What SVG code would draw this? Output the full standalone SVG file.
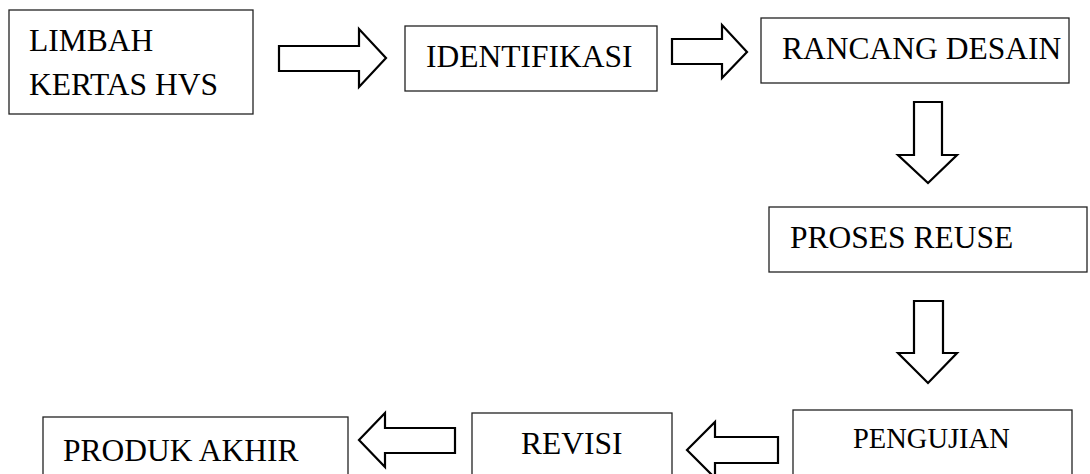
<svg xmlns="http://www.w3.org/2000/svg" width="1090" height="474" viewBox="0 0 1090 474">
<style>
.box{fill:#fff;stroke:#222;stroke-width:1.3}
.arr{fill:#fff;stroke:#000;stroke-width:2.2;stroke-linejoin:miter}
.t{font-family:"Liberation Serif","Times New Roman",serif;font-size:31.5px;fill:#000}
.s{font-size:28.5px}
</style>
<rect width="1090" height="474" fill="#fff"/>
<g id="connectors">
<polygon class="arr" points="279,46 359,46 359,29 386,58 359,87 359,71 279,71"/>
<polygon class="arr" points="672,39 722,39 722,25 747,52 722,78 722,64 672,64"/>
<polygon class="arr" points="914,102 942,102 942,155 957,155 928,183 898,155 914,155"/>
<polygon class="arr" points="914,301 943,301 943,353 957,353 928,383 898,353 914,353"/>
<polygon class="arr" points="778,437 715,437 715,422 687,450 715,478 715,463 778,463"/>
<polygon class="arr" points="455,428 385,428 385,413 359,440 385,467 385,453 455,453"/>
</g>
<g id="n-limbah">
<rect class="box" x="9" y="10" width="244" height="104"/>
<text class="t" x="29" y="51">LIMBAH</text>
<text class="t" x="29" y="95">KERTAS HVS</text>
</g>
<g id="n-identifikasi">
<rect class="box" x="405" y="26" width="252" height="65"/>
<text class="t" x="426" y="67">IDENTIFIKASI</text>
</g>
<g id="n-rancang">
<rect class="box" x="761" y="18" width="308" height="65"/>
<text class="t" x="782" y="58.5">RANCANG DESAIN</text>
</g>
<g id="n-proses">
<rect class="box" x="769" y="207" width="318" height="65"/>
<text class="t" x="790" y="248">PROSES REUSE</text>
</g>
<g id="n-pengujian">
<rect class="box" x="793" y="410" width="279" height="80"/>
<text class="t s" x="853" y="448">PENGUJIAN</text>
</g>
<g id="n-revisi">
<rect class="box" x="472" y="413" width="200" height="80"/>
<text class="t" x="521" y="454">REVISI</text>
</g>
<g id="n-produk">
<rect class="box" x="43" y="417" width="305" height="80"/>
<text class="t" x="63" y="461">PRODUK AKHIR</text>
</g>
</svg>
